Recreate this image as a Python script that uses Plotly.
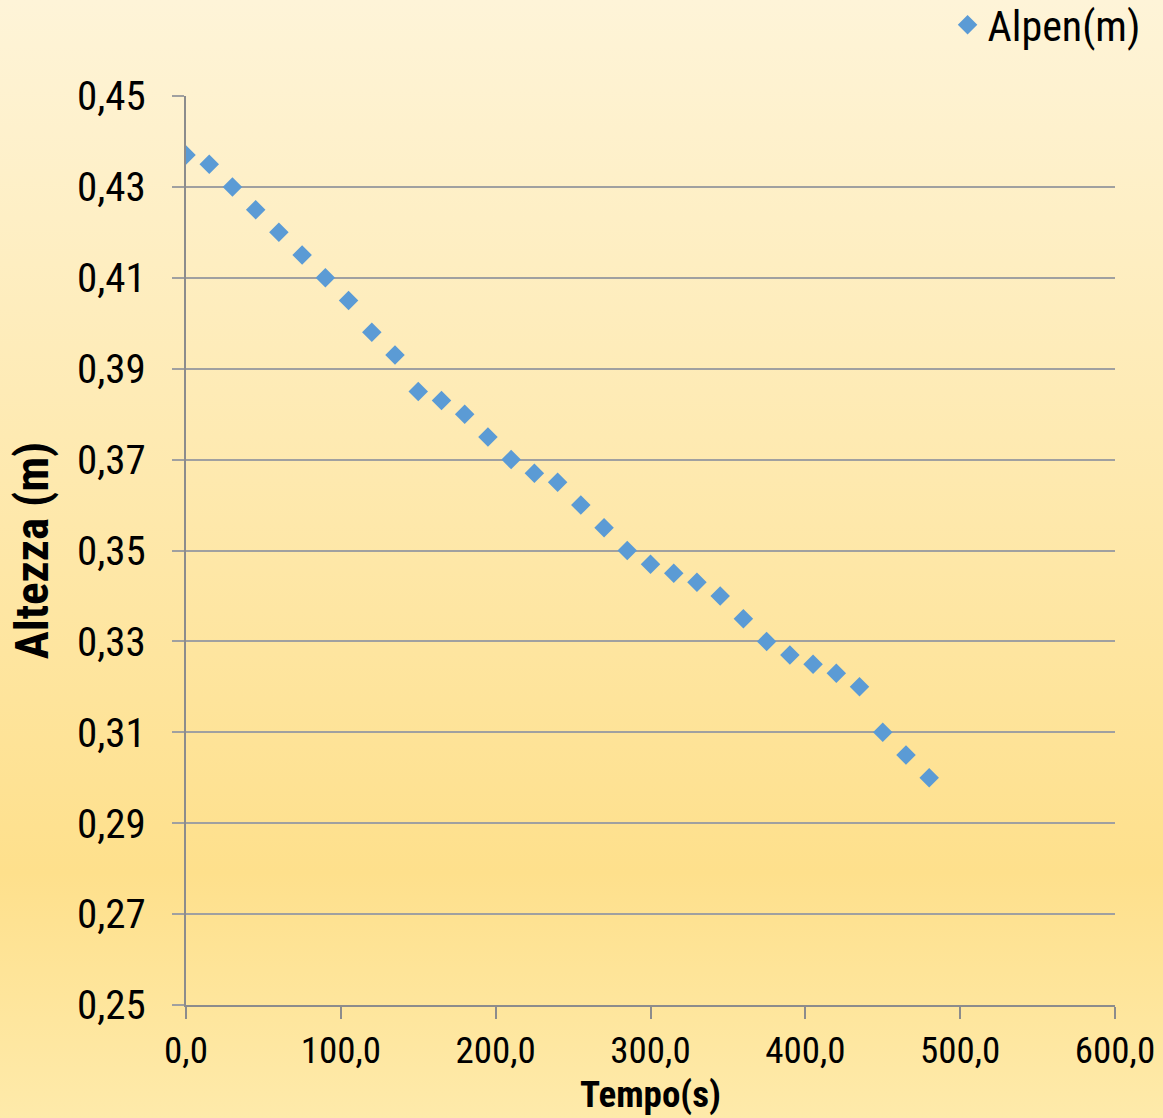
import plotly.graph_objects as go
import urllib.parse

tempo = [0, 15, 30, 45, 60, 75, 90, 105, 120, 135, 150, 165, 180, 195, 210, 225,
         240, 255, 270, 285, 300, 315, 330, 345, 360, 375, 390, 405, 420, 435,
         450, 465, 480]
altezza = [0.437, 0.435, 0.430, 0.425, 0.420, 0.415, 0.410, 0.405, 0.398, 0.393,
           0.385, 0.383, 0.380, 0.375, 0.370, 0.367, 0.365, 0.360, 0.355, 0.350,
           0.347, 0.345, 0.343, 0.340, 0.335, 0.330, 0.327, 0.325, 0.323, 0.320,
           0.310, 0.305, 0.300]
x_ticks = [0, 100, 200, 300, 400, 500, 600]
x_labels = ["0,0", "100,0", "200,0", "300,0", "400,0", "500,0", "600,0"]
y_ticks = [0.25, 0.27, 0.29, 0.31, 0.33, 0.35, 0.37, 0.39, 0.41, 0.43, 0.45]
y_labels = ["0,25", "0,27", "0,29", "0,31", "0,33", "0,35", "0,37", "0,39", "0,41", "0,43", "0,45"]
x_title = "Tempo(s)"
y_title = "Altezza (m)"

FONT = "Liberation Sans Narrow, Arial Narrow, Roboto Condensed, Liberation Sans, sans-serif"

W, H = 1163, 1118
L, R, T, B = 186, 48, 96, 113

svg = (
    '<svg xmlns="http://www.w3.org/2000/svg" viewBox="0 0 100 100" width="100" height="100" preserveAspectRatio="none">'
    '<defs><linearGradient id="g" x1="0" y1="0" x2="0" y2="1">'
    '<stop offset="0" stop-color="#fef4d8"/>'
    '<stop offset="0.78" stop-color="#fee08c"/>'
    '<stop offset="1" stop-color="#feeaaa"/>'
    '</linearGradient></defs>'
    '<rect x="0" y="0" width="100" height="100" fill="url(#g)"/></svg>'
)
bg_src = "data:image/svg+xml;charset=utf-8," + urllib.parse.quote(svg)

pw = W - L - R
ph = H - T - B

fig = go.Figure()
fig.add_trace(go.Scatter(
    x=tempo, y=altezza, mode="markers", name="Alpen(m)",
    marker=dict(symbol="diamond", size=15, color="#5b9bd5"),
))

fig.add_annotation(
    text="<b>" + x_title + "</b>", xref="paper", yref="paper",
    x=0.5, y=-(B - 1) / ph, xanchor="center", yanchor="bottom", showarrow=False,
    font=dict(family=FONT, size=37, color="#000000"), borderpad=0,
)

fig.update_layout(
    width=W, height=H,
    margin=dict(l=L, r=R, t=T, b=B, autoexpand=False),
    paper_bgcolor="#fee9b0",
    plot_bgcolor="rgba(0,0,0,0)",
    font=dict(family=FONT, color="#000000", size=36),
    images=[dict(
        source=bg_src, xref="paper", yref="paper",
        x=-L / pw, y=1 + T / ph, sizex=W / pw, sizey=H / ph,
        xanchor="left", yanchor="top", sizing="stretch", layer="below",
    )],
    showlegend=True,
    legend=dict(
        xref="container", yref="container", x=0.985, y=1 - 25 / H,
        xanchor="right", yanchor="middle",
        font=dict(family=FONT, size=42, color="#000000"),
        bgcolor="rgba(0,0,0,0)", itemwidth=30,
    ),
    xaxis=dict(
        range=[0, 600], tickvals=x_ticks, ticktext=x_labels,
        showgrid=False, zeroline=False,
        showline=True, linecolor="#8c8c8c", linewidth=2,
        ticks="outside", ticklen=12, tickcolor="#8c8c8c", tickwidth=2,
        tickfont=dict(family=FONT, size=37, color="#000000"),
        ticklabelstandoff=0,
    ),
    yaxis=dict(
        range=[0.25, 0.45], tickvals=y_ticks, ticktext=y_labels,
        showgrid=True, gridcolor="#a0a0a0", gridwidth=1.5,
        zeroline=False,
        showline=True, linecolor="#8c8c8c", linewidth=2,
        ticks="outside", ticklen=12, tickcolor="#a0a0a0", tickwidth=2,
        tickfont=dict(family=FONT, size=41, color="#000000"),
        ticklabelstandoff=18,
        title=dict(text="<b>" + y_title + "</b>", font=dict(family=FONT, size=47, color="#000000"), standoff=14),
    ),
)

fig.write_html("out.html")
